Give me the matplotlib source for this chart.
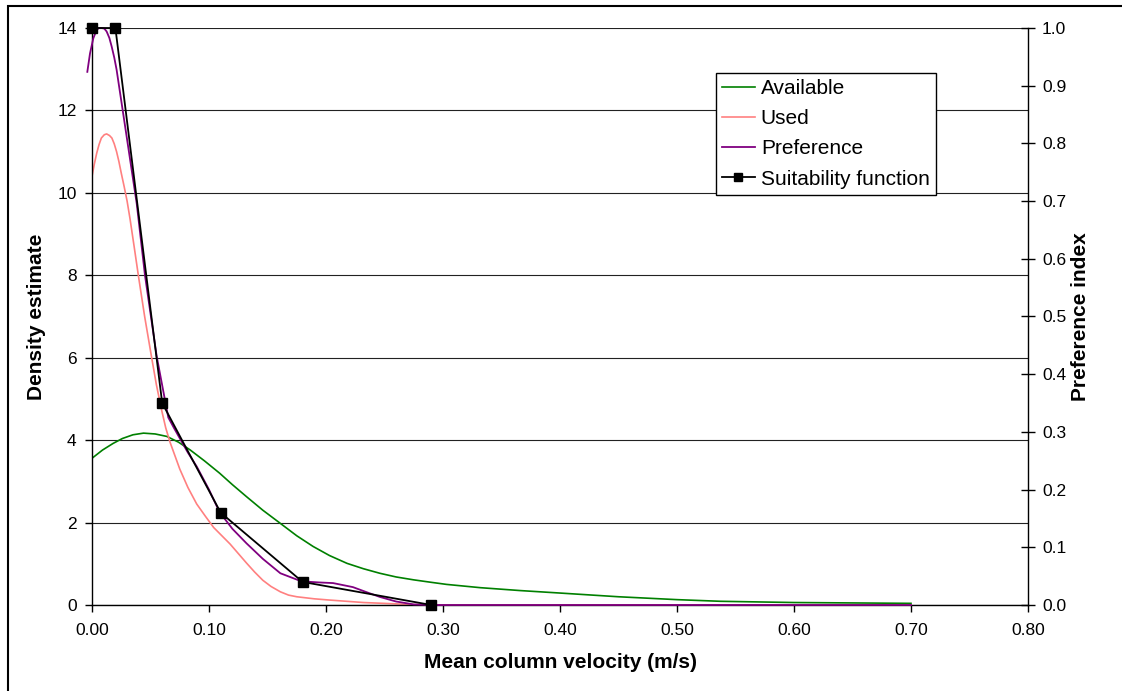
import matplotlib
matplotlib.use("Agg")
import matplotlib.pyplot as plt
from matplotlib.patches import Rectangle

plt.rcParams['font.family'] = ['Liberation Sans', 'DejaVu Sans']

# kernel density of velocities available in the reach (left axis)
avail_x = [0.0, 0.009, 0.018, 0.026, 0.035, 0.044, 0.054, 0.064, 0.074, 0.084,
           0.096, 0.109, 0.12, 0.132, 0.146, 0.161, 0.175, 0.189, 0.203, 0.218,
           0.232, 0.246, 0.26, 0.275, 0.29, 0.303, 0.332, 0.366, 0.40, 0.45,
           0.50, 0.537, 0.60, 0.65, 0.70]
avail_d = [3.56, 3.76, 3.92, 4.04, 4.13, 4.17, 4.15, 4.09, 3.95, 3.76,
           3.5, 3.2, 2.92, 2.63, 2.3, 1.98, 1.68, 1.42, 1.2, 1.01,
           0.88, 0.77, 0.68, 0.61, 0.55, 0.5, 0.42, 0.35, 0.29, 0.2,
           0.13, 0.09, 0.06, 0.05, 0.04]

# kernel density of velocities used by fish (left axis)
used_x = [0.0, 0.002, 0.004, 0.006, 0.008, 0.0105, 0.0125, 0.015, 0.017, 0.019,
          0.021, 0.023, 0.025, 0.0275, 0.03, 0.0325, 0.036, 0.0396, 0.045, 0.051,
          0.055, 0.0595, 0.063, 0.0667, 0.075, 0.082, 0.0895, 0.097, 0.104, 0.111,
          0.118, 0.125, 0.132, 0.139, 0.146, 0.153, 0.161, 0.168, 0.175, 0.19,
          0.203, 0.232, 0.275, 0.30, 0.70]
used_d = [10.4, 10.7, 10.96, 11.17, 11.33, 11.41, 11.43, 11.39, 11.33, 11.19,
          11.0, 10.76, 10.48, 10.15, 9.8, 9.37, 8.7, 8.0, 7.0, 6.0,
          5.35, 4.73, 4.3, 3.95, 3.3, 2.85, 2.45, 2.15, 1.88, 1.68,
          1.48, 1.25, 1.02, 0.8, 0.6, 0.45, 0.32, 0.24, 0.2, 0.15,
          0.12, 0.06, 0.01, 0.0, 0.0]

# preference index = used / available, rescaled to 0-1 (right axis)
pref_x = [-0.004, -0.0017, 0.0011, 0.004, 0.006, 0.0083, 0.0105, 0.0125, 0.0148,
          0.0168, 0.019, 0.021, 0.023, 0.0253, 0.0296, 0.0339, 0.0382, 0.0453,
          0.0553, 0.0652, 0.07, 0.075, 0.082, 0.0895, 0.10, 0.109, 0.12, 0.132,
          0.146, 0.161, 0.179, 0.195, 0.206, 0.223, 0.235, 0.246, 0.26, 0.275,
          0.29, 0.70]
pref_i = [0.924, 0.956, 0.982, 0.997, 1.0, 1.0, 0.999, 0.994, 0.983,
          0.968, 0.949, 0.928, 0.901, 0.870, 0.812, 0.754, 0.696, 0.571,
          0.431, 0.325, 0.307, 0.289, 0.264, 0.240, 0.200, 0.161, 0.132, 0.107,
          0.080, 0.055, 0.041, 0.039, 0.038, 0.031, 0.022, 0.014, 0.006, 0.001,
          0.0, 0.0]

# fitted suitability function breakpoints (right axis)
suit_x = [0.0, 0.02, 0.06, 0.11, 0.18, 0.29]
suit_i = [1.0, 1.0, 0.35, 0.16, 0.04, 0.0]

W, H = 1122, 691
fig = plt.figure(figsize=(W / 100, H / 100), dpi=100)
fig.patches.append(Rectangle((8 / W, -0.1), 1.2, 1.1 - 6 / H, transform=fig.transFigure,
                             fill=False, edgecolor='black', linewidth=1.5))

ax1 = fig.add_axes([92 / W, 1 - 605 / H, (1028 - 92) / W, (605 - 28) / H])
ax2 = ax1.twinx()

l1, = ax1.plot(avail_x, avail_d, color='#008000', lw=1.2, label='Available')
l2, = ax1.plot(used_x, used_d, color='#FF8080', lw=1.2, label='Used')
l3, = ax2.plot(pref_x, pref_i, color='#800080', lw=1.3, label='Preference', clip_on=False)
l4, = ax2.plot(suit_x, suit_i, color='black', lw=1.3, marker='s', markersize=7,
               label='Suitability function', clip_on=False)

ax1.set_xlim(0, 0.8)
ax1.set_ylim(0, 14)
ax2.set_ylim(0, 1.0)
ax1.set_xticks([i / 10 for i in range(9)])
ax1.set_xticklabels([f"{i / 10:.2f}" for i in range(9)])
ax1.set_yticks(range(0, 15, 2))
ax2.set_yticks([i / 10 for i in range(11)])
ax2.set_yticklabels([f"{i / 10:.1f}" for i in range(11)])

ax1.yaxis.grid(True, color='#222222', lw=0.8)
ax1.set_axisbelow(True)

for ax in (ax1, ax2):
    ax.spines['top'].set_visible(False)
    for s in ax.spines.values():
        s.set_linewidth(1.0)
        s.set_color('black')
ax1.spines['right'].set_visible(False)
ax2.spines['left'].set_visible(False)
ax2.spines['bottom'].set_visible(False)

ax1.tick_params(axis='x', direction='out', length=5, width=1, labelsize=12.5, pad=8)
ax1.tick_params(axis='y', direction='out', length=5, width=1, labelsize=12.5, pad=6)
ax2.tick_params(axis='y', direction='inout', length=10, width=1, labelsize=12.5, pad=5)

ax1.set_xlabel('Mean column velocity (m/s)', fontsize=15, fontweight='bold')
ax1.xaxis.set_label_coords(0.5, -0.0827)
ax1.set_ylabel('Density estimate', fontsize=15, fontweight='bold')
ax1.yaxis.label.set_va('center')
ax1.yaxis.set_label_coords(-0.059, 0.5)
ax2.set_ylabel('Preference index', fontsize=15, fontweight='bold', rotation=90)
ax2.yaxis.label.set_va('center')
ax2.yaxis.set_label_coords(1.0566, 0.5)

leg = ax2.legend(handles=[l1, l2, l3, l4], loc='upper left',
                 bbox_to_anchor=(716 / W, 1 - 72.7 / H), bbox_transform=fig.transFigure,
                 fontsize=15, frameon=True, fancybox=False, borderaxespad=0,
                 handlelength=1.55, handletextpad=0.3, labelspacing=0.54,
                 borderpad=0.3, markerscale=0.75)
leg.get_frame().set_edgecolor('black')
leg.get_frame().set_linewidth(1.0)
leg.get_frame().set_alpha(1.0)

fig.savefig('out.png', dpi=100)
